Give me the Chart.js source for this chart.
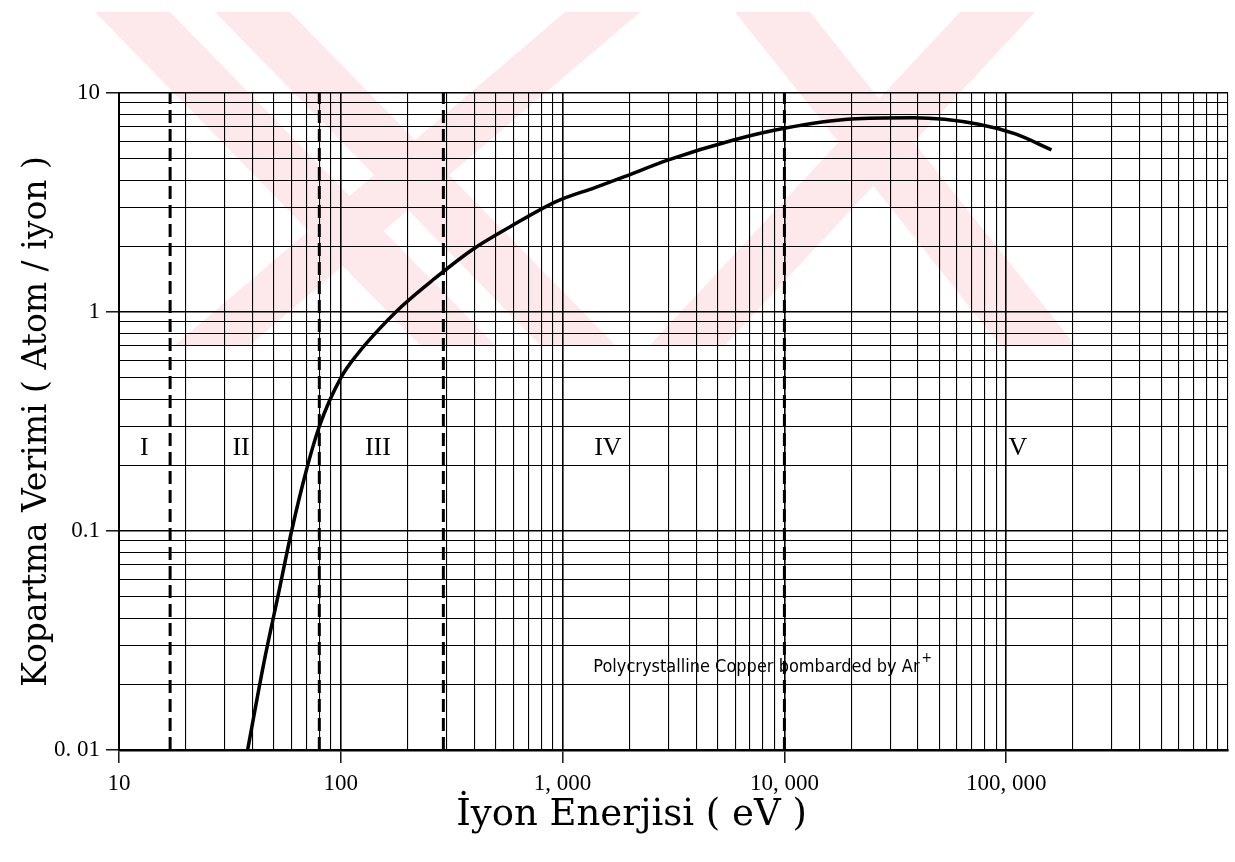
<!DOCTYPE html>
<html>
<head>
<meta charset="utf-8">
<script src="https://cdn.jsdelivr.net/npm/chart.js@4.4.1/dist/chart.umd.min.js"></script>
<style>
  html, body { margin: 0; padding: 0; background: #fff; }
  #wrap { width: 1235px; height: 862px; }
</style>
</head>
<body>
<div id="wrap"><canvas id="grafik" width="1235" height="862"></canvas></div>
<script>
// Kopartma verimi - iyon enerjisi (Cu, Ar+)
const enerjiler = [38, 45, 52, 60, 70, 80, 100, 120, 140, 190, 260, 390, 580, 940, 1400, 1900, 3000, 5900, 10000, 20000, 38000, 75000, 110000, 160000];
const verimler = [0.01, 0.025, 0.05, 0.1, 0.19, 0.3, 0.5, 0.65, 0.78, 1.07, 1.4, 1.92, 2.45, 3.2, 3.7, 4.15, 4.95, 6.1, 6.9, 7.6, 7.7, 7.2, 6.5, 5.5];

// bolge sinirlari (kesikli cizgiler) ve bolge adlari
const bolgeSinirlari = [17, 80, 290, 10000];
const bolgeAdlari = ['I', 'II', 'III', 'IV', 'V'];
const bolgeAdX = [13, 35.5, 147, 1600, 113000];
const bolgeAdY = 0.24;

// eksen etiketleri
const xTicks = [10, 100, 1000, 10000, 100000];
const xTickLabels = ['10', '100', '1, 000', '10, 000', '100, 000'];
const yTicks = [0.01, 0.1, 1, 10];
const yTickLabels = ['0. 01', '0.1', '1', '10'];
const araAdimlar = [2, 3, 4, 5, 6, 7, 8, 9];

const notMetni = 'Polycrystalline Copper bombarded by Ar';
const notX = 1375;
const notY = 0.0245;

const SIYAH = '#000';

function logIzgara(min, max) {
  const out = [];
  for (let d = min; d < max * 0.999; d *= 10) {
    out.push(d);
    araAdimlar.forEach(k => out.push(d * k));
  }
  out.push(max);
  return out;
}

function etiketBul(v, degerler, etiketler) {
  const i = degerler.findIndex(t => Math.abs(v - t) / t < 1e-6);
  return i >= 0 ? etiketler[i] : '';
}

// arka plandaki soluk pembe filigran
const arkaPlan = {
  id: 'arkaPlan',
  beforeDraw(chart) {
    const { ctx, width } = chart;
    ctx.save();
    ctx.fillStyle = '#fff';
    ctx.fillRect(0, 0, width, chart.height);
    ctx.fillStyle = '#fde8ec';
    const y0 = 12, y1 = 345, w = 75;
    const seritler = [[95, 420], [215, 540], [565, 175], [735, 1000], [960, 650]];
    seritler.forEach(([ust, alt]) => {
      ctx.beginPath();
      ctx.moveTo(ust, y0);
      ctx.lineTo(ust + w, y0);
      ctx.lineTo(alt + w, y1);
      ctx.lineTo(alt, y1);
      ctx.closePath();
      ctx.fill();
    });
    ctx.restore();
  }
};

// bolge adlari, not ve x ekseni basligi
const notlar = {
  id: 'notlar',
  afterDraw(chart) {
    const { ctx, scales: { x, y }, chartArea } = chart;
    ctx.save();
    ctx.fillStyle = SIYAH;
    ctx.textAlign = 'center';
    ctx.textBaseline = 'middle';
    ctx.font = '26px "Liberation Serif"';
    bolgeAdlari.forEach((ad, i) => {
      ctx.fillText(ad, x.getPixelForValue(bolgeAdX[i]), y.getPixelForValue(bolgeAdY));
    });

    ctx.textAlign = 'left';
    ctx.font = '18px "DejaVu Sans Condensed", "DejaVu Sans"';
    const nx = x.getPixelForValue(notX);
    const ny = y.getPixelForValue(notY) + 3;
    ctx.fillText(notMetni, nx, ny);
    const gen = ctx.measureText(notMetni).width;
    ctx.font = '14px "DejaVu Sans Condensed", "DejaVu Sans"';
    ctx.fillText('+', nx + gen + 2, ny - 9);

    ctx.textAlign = 'center';
    ctx.textBaseline = 'middle';
    ctx.font = '37px "DejaVu Serif"';
    ctx.fillText('İyon Enerjisi ( eV )', (chartArea.left + chartArea.right) / 2 - 42, 815);
    ctx.restore();
  }
};

const egri = {
  data: enerjiler.map((e, i) => ({ x: e, y: verimler[i] })),
  borderColor: SIYAH,
  borderWidth: 3.5,
  pointRadius: 0,
  cubicInterpolationMode: 'monotone',
  fill: false
};

const kesikli = bolgeSinirlari.map(b => ({
  data: [{ x: b, y: yTicks[0] }, { x: b, y: yTicks[yTicks.length - 1] }],
  borderColor: SIYAH,
  borderWidth: 3,
  borderDash: [13, 6],
  pointRadius: 0,
  fill: false
}));

function gridAyar(degerler) {
  return {
    color: SIYAH,
    lineWidth: c => (c.tick && degerler.some(t => Math.abs(c.tick.value - t) / t < 1e-6) ? 1.6 : 1.1),
    tickLength: 13,
    tickWidth: 1.4,
    tickColor: c => (c.tick && etiketBul(c.tick.value, degerler, degerler.map(String)) ? SIYAH : 'rgba(0,0,0,0)')
  };
}

new Chart(document.getElementById('grafik'), {
  type: 'line',
  data: { datasets: [egri, ...kesikli] },
  options: {
    responsive: false,
    animation: false,
    layout: { padding: { top: 93, right: 7, left: 0, bottom: 0 } },
    plugins: { legend: { display: false }, tooltip: { enabled: false } },
    scales: {
      x: {
        type: 'logarithmic',
        min: 10,
        max: 1e6,
        afterBuildTicks: s => { s.ticks = logIzgara(10, 1e6).map(v => ({ value: v })); },
        afterFit: s => { s.height = 112; },
        ticks: {
          autoSkip: false,
          maxRotation: 0,
          padding: 7,
          color: SIYAH,
          font: { family: 'Liberation Serif', size: 23 },
          callback: v => etiketBul(v, xTicks, xTickLabels)
        },
        grid: gridAyar(xTicks),
        border: { display: true, color: SIYAH, width: 2.5 }
      },
      y: {
        type: 'logarithmic',
        min: 0.01,
        max: 10,
        afterBuildTicks: s => { s.ticks = logIzgara(0.01, 10).map(v => ({ value: v })); },
        afterFit: s => { s.width = 119; },
        ticks: {
          autoSkip: false,
          padding: 6,
          color: SIYAH,
          font: { family: 'Liberation Serif', size: 23 },
          callback: v => etiketBul(v, yTicks, yTickLabels)
        },
        grid: gridAyar(yTicks),
        border: { display: true, color: SIYAH, width: 2 },
        title: {
          display: true,
          text: 'Kopartma Verimi ( Atom / iyon )',
          color: SIYAH,
          font: { family: 'DejaVu Serif', size: 33 },
          padding: { top: 18 }
        }
      }
    }
  },
  plugins: [arkaPlan, notlar]
});
</script>
</body>
</html>
